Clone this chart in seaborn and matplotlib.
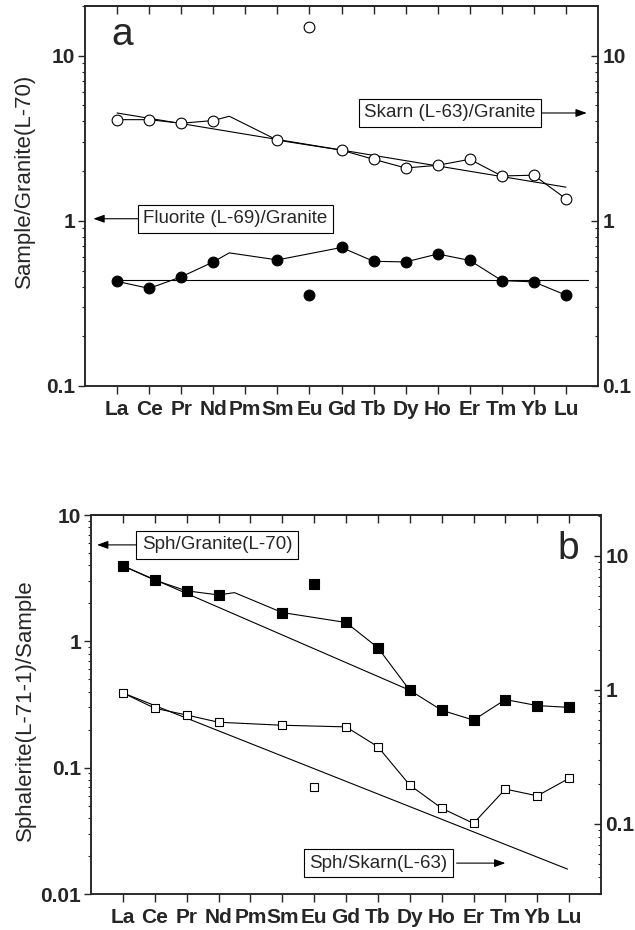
import numpy as np
import pandas as pd
import matplotlib
matplotlib.use("Agg")
import matplotlib.pyplot as plt
from matplotlib.ticker import FixedLocator, LogLocator, NullFormatter
import seaborn as sns

### REE along the x axis
elements = ["La", "Ce", "Pr", "Nd", "Pm", "Sm", "Eu", "Gd", "Tb",
            "Dy", "Ho", "Er", "Tm", "Yb", "Lu"]

### panel a : samples normalised to granite L-70 (no Pm measured)
skarn_granite = [4.1, 4.1, 3.9, 4.05, np.nan, 3.08, 15.0, 2.68, 2.36,
                 2.09, 2.17, 2.36, 1.87, 1.89, 1.36]
fluorite_granite = [0.43, 0.39, 0.458, 0.564, np.nan, 0.58, 0.355, 0.69, 0.569,
                    0.564, 0.63, 0.576, 0.435, 0.427, 0.355]
skarn_pm_fill = 4.3          # joining line goes through a Pm value
fluorite_pm_fill = 0.64
skarn_trend_x, skarn_trend = [0, 14], [4.5, 1.6]
fluorite_trend_x, fluorite_trend = [0, 14.7], [0.437, 0.437]

### panel b : sphalerite L-71-1 normalised to granite (left) and skarn (right)
sph_granite = [3.96, 3.05, 2.51, 2.33, np.nan, 1.69, 2.83, 1.41, 0.89,
               0.41, 0.285, 0.238, 0.346, 0.31, 0.30]
sph_skarn = [0.95, 0.73, 0.65, 0.574, np.nan, 0.545, 0.188, 0.53, 0.377,
             0.195, 0.131, 0.101, 0.182, 0.162, 0.219]
sph_granite_pm_fill = 2.43
sph_granite_trend_x, sph_granite_trend = [0, 9], [3.96, 0.41]
sph_skarn_trend_x, sph_skarn_trend = [0, 13.95], [0.95, 0.046]


sns.set_theme(style="ticks")
plt.rcParams["font.family"] = ["Liberation Sans", "DejaVu Sans"]
plt.rcParams["axes.linewidth"] = 1.1

TICK_FS = 15


def joined(values, pm_fill=None):
    ## points joined by the thin line: Eu left out, Pm gap bridged
    df = pd.DataFrame({"pos": np.arange(len(elements), dtype=float), "val": values})
    df = df.drop(index=elements.index("Eu"))
    if pm_fill is not None:
        df.loc[elements.index("Pm"), ["pos", "val"]] = [3.5, pm_fill]
    return df.dropna()


def markers(ax, values, marker, filled, s):
    df = pd.DataFrame({"pos": np.arange(len(elements)), "val": values}).dropna()
    sns.scatterplot(data=df, x="pos", y="val", ax=ax, marker=marker, s=s,
                    color="black" if filled else "white", edgecolor="black",
                    linewidth=0.8, zorder=4, legend=False)


def line(ax, x, y):
    sns.lineplot(x=x, y=y, ax=ax, color="black", lw=0.8, sort=False,
                 estimator=None, zorder=2)


def style_axes(ax, axr, ylim_left, ylim_right, left_ticks, right_ticks):
    for a, lim, ticks in [(ax, ylim_left, left_ticks), (axr, ylim_right, right_ticks)]:
        a.set_yscale("log")
        a.set_ylim(*lim)
        a.yaxis.set_major_locator(FixedLocator(ticks))
        a.set_yticklabels([f"{t:g}" for t in ticks], fontweight="bold", fontsize=TICK_FS)
        a.yaxis.set_minor_locator(LogLocator(base=10, subs=np.arange(2, 10)))
        a.yaxis.set_minor_formatter(NullFormatter())
        a.set_ylabel("")
        a.set_xlabel("")
    ax.tick_params(axis="y", which="major", direction="out", length=5, width=1, pad=2)
    ax.tick_params(axis="y", which="minor", direction="out", length=2.5, width=0.8)
    axr.tick_params(axis="y", which="major", direction="in", length=5, width=1, pad=3)
    axr.tick_params(axis="y", which="minor", direction="in", length=2.5, width=0.8)

    ax.set_xlim(-1, 15)
    ax.set_xticks(range(len(elements)))
    ax.set_xticklabels(elements, fontweight="bold", fontsize=TICK_FS)
    ax.tick_params(axis="x", direction="out", length=5.5, width=1, pad=4.5, top=False)
    top = ax.secondary_xaxis("top")
    top.set_xticks(range(len(elements)))
    top.tick_params(direction="in", length=6, width=1, labeltop=False)
    for sp in ax.spines.values():
        sp.set_visible(True)
        sp.set_linewidth(1.1)


def label_box(ax, x, y, text, ha, arrow_from, arrow_to):
    ax.annotate("", xy=(arrow_to, y), xytext=(arrow_from, y),
                arrowprops=dict(arrowstyle="-|>,head_length=0.55,head_width=0.2",
                                color="black", lw=0.8, shrinkA=0, shrinkB=0))
    ax.text(x, y, text, ha=ha, va="center", fontsize=13.5, zorder=5,
            bbox=dict(boxstyle="square,pad=0.3", fc="white", ec="black", lw=0.8))


fig = plt.figure(figsize=(6.35, 9.3), dpi=100)

### ---------------- panel a
ax_a = fig.add_axes([85 / 635, 1 - 386 / 930, 513 / 635, 380 / 930])
ax_ar = ax_a.twinx()

line(ax_a, skarn_trend_x, skarn_trend)
line(ax_a, fluorite_trend_x, fluorite_trend)
d = joined(skarn_granite, skarn_pm_fill)
line(ax_a, d["pos"], d["val"])
d = joined(fluorite_granite, fluorite_pm_fill)
line(ax_a, d["pos"], d["val"])
markers(ax_a, skarn_granite, "o", False, 60)
markers(ax_a, fluorite_granite, "o", True, 60)

style_axes(ax_a, ax_ar, (0.1, 20), (0.1, 20), [0.1, 1, 10], [0.1, 1, 10])
ax_a.set_ylabel("Sample/Granite(L-70)", fontsize=16)
ax_a.yaxis.set_label_coords(-0.098, 0.54)

label_box(ax_a, 0.82, 1.03, "Fluorite (L-69)/Granite", "left", 0.66, -0.74)
label_box(ax_a, 13.06, 4.5, "Skarn (L-63)/Granite", "right", 13.22, 14.65)
ax_a.text(0.052, 0.897, "a", transform=ax_a.transAxes, fontsize=28, va="baseline")

### ---------------- panel b
ax_b = fig.add_axes([91 / 635, 1 - 894 / 930, 510 / 635, 379 / 930])
ax_br = ax_b.twinx()

line(ax_b, sph_granite_trend_x, sph_granite_trend)
d = joined(sph_granite, sph_granite_pm_fill)
line(ax_b, d["pos"], d["val"])
markers(ax_b, sph_granite, "s", True, 48)

line(ax_br, sph_skarn_trend_x, sph_skarn_trend)
d = joined(sph_skarn)
line(ax_br, d["pos"], d["val"])
markers(ax_br, sph_skarn, "s", False, 40)

style_axes(ax_b, ax_br, (0.01, 10), (0.030, 20.2), [0.01, 0.1, 1, 10], [0.1, 1, 10])
ax_b.set_ylabel("Sphalerite(L-71-1)/Sample", fontsize=16)
ax_b.yaxis.set_label_coords(-0.108, 0.485)

label_box(ax_b, 0.6, 5.8, "Sph/Granite(L-70)", "left", 0.44, -0.81)
label_box(ax_br, 5.85, 0.051, "Sph/Skarn(L-63)", "left", 10.47, 12.0)
ax_b.text(0.915, 0.885, "b", transform=ax_b.transAxes, fontsize=28, va="baseline")

fig.savefig("out.png", dpi=100)
